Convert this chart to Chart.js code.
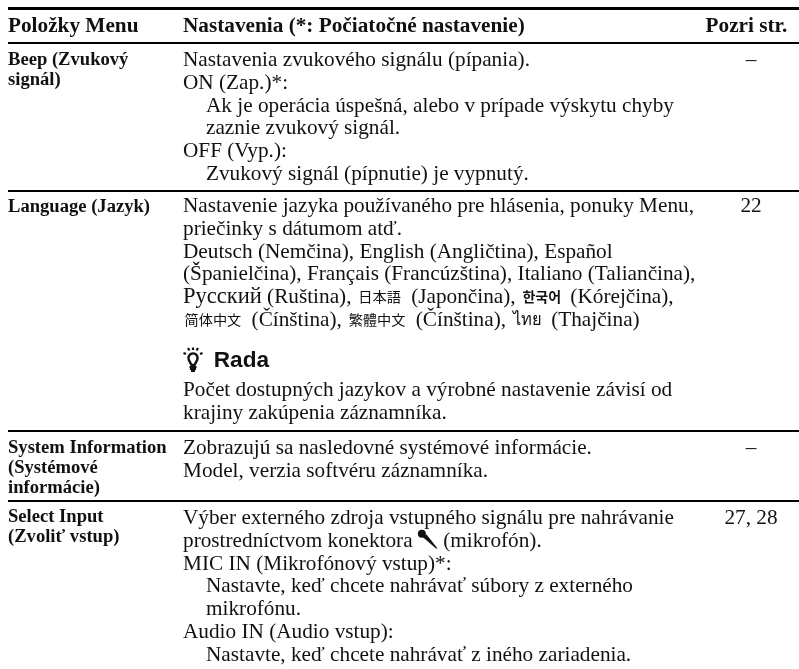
<!DOCTYPE html>
<html>
<head>
<meta charset="utf-8">
<title>Položky Menu</title>
<script src="https://cdn.jsdelivr.net/npm/chart.js"></script>
<style>
    html, body { margin: 0; padding: 0; background: #fff; }
    canvas { display: block; filter: blur(0.35px); }
</style>
</head>
<body>
<canvas id="menuTable" width="799" height="669"></canvas>
<script>
// Table content
const MIC = "\uE000";
const BULB = "\uE001";

const headers = ["Položky Menu", "Nastavenia (*: Počiatočné nastavenie)", "Pozri str."];

const itemLines = [
    ["Beep (Zvukový", "signál)"],
    ["Language (Jazyk)"],
    ["System Information", "(Systémové", "informácie)"],
    ["Select Input", "(Zvoliť vstup)"]
];

const settingLines = [
    [
        "Nastavenia zvukového signálu (pípania).",
        "ON (Zap.)*:",
        "Ak je operácia úspešná, alebo v prípade výskytu chyby",
        "zaznie zvukový signál.",
        "OFF (Vyp.):",
        "Zvukový signál (pípnutie) je vypnutý."
    ],
    [
        "Nastavenie jazyka používaného pre hlásenia, ponuky Menu,",
        "priečinky s dátumom atď.",
        "Deutsch (Nemčina), English (Angličtina), Español",
        "(Španielčina), Français (Francúzština), Italiano (Taliančina),",
        "Русский (Ruština), 日本語 (Japončina), 한국어 (Kórejčina),",
        "简体中文 (Čínština), 繁體中文 (Čínština), ไทย (Thajčina)"
    ],
    [
        "Zobrazujú sa nasledovné systémové informácie.",
        "Model, verzia softvéru záznamníka."
    ],
    [
        "Výber externého zdroja vstupného signálu pre nahrávanie",
        "prostredníctvom konektora " + MIC + " (mikrofón).",
        "MIC IN (Mikrofónový vstup)*:",
        "Nastavte, keď chcete nahrávať súbory z externého",
        "mikrofónu.",
        "Audio IN (Audio vstup):",
        "Nastavte, keď chcete nahrávať z iného zariadenia."
    ]
];

// Which setting lines are indented
const settingIndented = [
    [2, 3, 5],
    [],
    [],
    [3, 4, 6]
];

const pageRefs = ["–", "22", "–", "27, 28"];

const tipTitle = BULB + " Rada";
const tipLines = [
    "Počet dostupných jazykov a výrobné nastavenie závisí od",
    "krajiny zakúpenia záznamníka."
];

// Layout, in pixels of the page
const headerX = [8, 183, 746.5];
const itemX = 8;
const settingX = 183;
const indentX = 206;
const pageX = 751;
const ruleLeft = 8;
const ruleRight = 799;
const headerRule = { y: 8.5, width: 3 };
const rowRules = [43, 191, 431, 501];
const rowFirstBase = [66, 212, 454, 524];
const rowItemBase = [65, 212, 453, 522];
const headerBase = 32;
const settingStep = 22.75;
const itemStep = 20;
const tipTitleBase = 367;
const tipBase = 396;

const fontSetting = "21.25px 'Liberation Serif'";
const fontHeader = "bold 21.25px 'Liberation Serif'";
const fontItem = "bold 18.6px 'Liberation Serif'";
const fontTip = "bold 22.6px 'Liberation Sans'";
const inkColor = "#111111";

// Other scripts use their own face and a little air around the run
const scriptFonts = [
    { test: /[\u0400-\u04ff]/, font: "22.5px 'Liberation Serif'", before: 0, after: 0, lift: 0 },
    { test: /[\u3000-\u9fff]/, font: "14.2px 'Noto Sans CJK JP'", before: 1.5, after: 5, lift: 1 },
    { test: /[\uac00-\ud7af]/, font: "bold 14px 'Noto Sans CJK KR'", before: 1.5, after: 4, lift: 1 },
    { test: /[\u0e00-\u0e7f]/, font: "16.5px 'Noto Sans', 'DejaVu Sans'", before: 1.5, after: 4, lift: 1 }
];

// Build the datasets from the arrays above
function textPoint(x, y, text, font, align) {
    return { x, y, text, font, align: align || "left" };
}

const textData = [];
headers.forEach((h, i) => {
    textData.push(textPoint(headerX[i], headerBase, h, fontHeader, i === 2 ? "center" : "left"));
});
itemLines.forEach((lines, r) => {
    lines.forEach((line, i) => textData.push(textPoint(itemX, rowItemBase[r] + i * itemStep, line, fontItem)));
});
settingLines.forEach((lines, r) => {
    lines.forEach((line, i) => {
        const x = settingIndented[r].includes(i) ? indentX : settingX;
        textData.push(textPoint(x, rowFirstBase[r] + i * settingStep, line, fontSetting));
    });
});
pageRefs.forEach((ref, r) => {
    textData.push(textPoint(pageX, rowFirstBase[r], ref, fontSetting, "center"));
});
textData.push(textPoint(settingX, tipTitleBase, tipTitle, fontTip));
tipLines.forEach((line, i) => {
    textData.push(textPoint(settingX, tipBase + i * settingStep, line, fontSetting));
});

function ruleDataset(y, width) {
    return {
        type: "line",
        data: [{ x: ruleLeft, y }, { x: ruleRight, y }],
        borderColor: "#000",
        borderWidth: width,
        pointRadius: 0,
        borderCapStyle: "butt"
    };
}

const datasets = [
    ruleDataset(headerRule.y, headerRule.width),
    ...rowRules.map(y => ruleDataset(y, 2)),
    { type: "scatter", data: textData, pointRadius: 0 }
];

// Small pictograms used inside the text
function drawMic(ctx, x, base) {
    ctx.save();
    ctx.fillStyle = inkColor;
    ctx.beginPath();
    ctx.arc(x + 4, base - 13, 4, 0, Math.PI * 2);
    ctx.fill();
    // handle, narrowing to the tip
    ctx.beginPath();
    ctx.moveTo(x + 5, base - 9.5);
    ctx.lineTo(x + 8.5, base - 12.5);
    ctx.lineTo(x + 19.5, base + 1.5);
    ctx.lineTo(x + 18.5, base + 2);
    ctx.closePath();
    ctx.fill();
    ctx.restore();
}

function drawBulb(ctx, x, base) {
    ctx.save();
    ctx.strokeStyle = inkColor;
    ctx.lineWidth = 2.4;
    ctx.beginPath();
    ctx.arc(x + 10, base - 9, 4.6, Math.PI * 0.85, Math.PI * 0.15 + Math.PI * 2);
    ctx.lineTo(x + 11.5, base - 2);
    ctx.lineTo(x + 8.5, base - 2);
    ctx.closePath();
    ctx.stroke();
    // screw base
    ctx.lineWidth = 1.8;
    ctx.beginPath();
    ctx.moveTo(x + 6.5, base);
    ctx.lineTo(x + 13.5, base);
    ctx.moveTo(x + 7, base + 2);
    ctx.lineTo(x + 13, base + 2);
    ctx.moveTo(x + 8, base + 4);
    ctx.lineTo(x + 12, base + 4);
    // rays
    ctx.lineWidth = 2.2;
    ctx.moveTo(x + 0.5, base - 14);
    ctx.lineTo(x + 3, base - 13);
    ctx.moveTo(x + 5, base - 19);
    ctx.lineTo(x + 6.5, base - 16.5);
    ctx.moveTo(x + 10, base - 19.5);
    ctx.lineTo(x + 10, base - 17);
    ctx.moveTo(x + 15, base - 19);
    ctx.lineTo(x + 13.5, base - 16.5);
    ctx.moveTo(x + 19.5, base - 14);
    ctx.lineTo(x + 17, base - 13);
    ctx.stroke();
    ctx.restore();
}

// Splits a line into serif text, other scripts and pictograms
const runPattern = /[\u0400-\u04ff]+|[\u0e00-\u0e7f\u3000-\u9fff\uac00-\ud7af]+|[\uE000\uE001]|[^\u0400-\u04ff\u0e00-\u0e7f\u3000-\u9fff\uac00-\ud7af\uE000\uE001]+/g;

function drawLine(ctx, p, px, py) {
    const runs = p.text.match(runPattern);
    const scriptOf = s => scriptFonts.find(f => f.test.test(s));
    const widthOf = s => {
        if (s === MIC) return 20;
        if (s === BULB) return 24.5;
        const script = scriptOf(s);
        ctx.font = script ? script.font : p.font;
        return ctx.measureText(s).width + (script ? script.before + script.after : 0);
    };
    let x = px;
    if (p.align === "center") {
        x -= runs.reduce((sum, s) => sum + widthOf(s), 0) / 2;
    }
    runs.forEach(s => {
        const w = widthOf(s);
        if (s === MIC) {
            drawMic(ctx, x, py);
        } else if (s === BULB) {
            drawBulb(ctx, x, py);
        } else {
            const script = scriptOf(s);
            ctx.font = script ? script.font : p.font;
            ctx.fillText(s, x + (script ? script.before : 0), py - (script ? script.lift : 0));
        }
        x += w;
    });
}

const textPlugin = {
    id: "tableText",
    afterDatasetsDraw(chart) {
        const { ctx, scales } = chart;
        const points = chart.data.datasets[chart.data.datasets.length - 1].data;
        ctx.save();
        ctx.fillStyle = inkColor;
        ctx.textBaseline = "alphabetic";
        ctx.textAlign = "left";
        points.forEach(p => {
            drawLine(ctx, p, scales.x.getPixelForValue(p.x), scales.y.getPixelForValue(p.y));
        });
        ctx.restore();
    }
};

new Chart(document.getElementById("menuTable").getContext("2d"), {
    data: { datasets },
    plugins: [textPlugin],
    options: {
        responsive: false,
        animation: false,
        events: [],
        layout: { padding: 0 },
        plugins: { legend: { display: false }, tooltip: { enabled: false } },
        scales: {
            x: { type: "linear", display: false, min: 0, max: 799 },
            y: { type: "linear", display: false, min: 0, max: 669, reverse: true }
        }
    }
});
</script>
</body>
</html>
